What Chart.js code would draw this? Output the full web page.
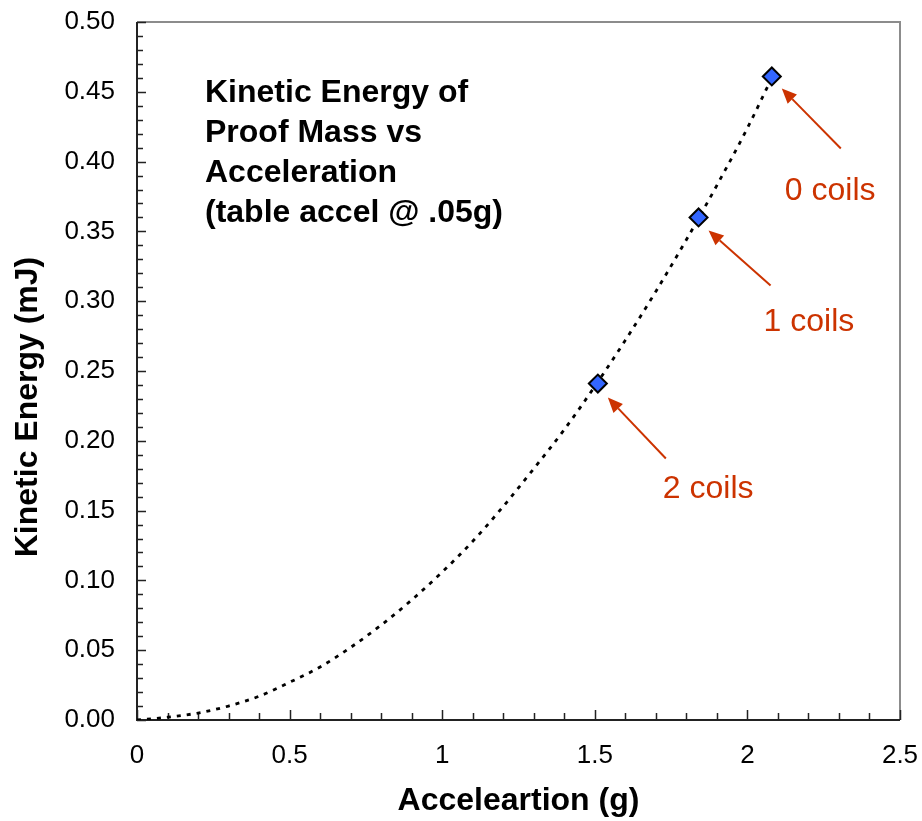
<!DOCTYPE html>
<html>
<head>
<title>Kinetic Energy of Proof Mass vs Acceleration</title>
<script src="https://cdn.jsdelivr.net/npm/chart.js"></script>
<style>
    html, body { margin: 0; padding: 0; background: #fff; }
    #wrap { width: 922px; height: 821px; }
</style>
</head>
<body>
<div id="wrap"><canvas id="keChart" width="922" height="821"></canvas></div>
<script>
// measured points: acceleration (g) vs kinetic energy (mJ)
const coilLabels = ['2 coils', '1 coils', '0 coils'];
const accel = [1.51, 1.84, 2.08];
const energy = [0.241, 0.360, 0.461];

// dotted trend line
const trendAccel = [0, 0.1, 0.2, 0.3, 0.4, 0.5, 0.6, 0.7, 0.8, 0.9, 1.0, 1.1,
    1.2, 1.3, 1.4, 1.5, 1.6, 1.7, 1.8, 1.9, 2.0, 2.08];
const trendEnergy = [0.000, 0.002, 0.005, 0.010, 0.017, 0.027, 0.038, 0.052, 0.068, 0.086, 0.106, 0.128,
    0.153, 0.180, 0.208, 0.239, 0.272, 0.307, 0.344, 0.383, 0.424, 0.460];

// axis ranges / tick steps
const xRange = [0, 2.5];
const yRange = [0, 0.5];
const xStep = 0.5, xMinor = 0.1;
const yStep = 0.05, yMinor = 0.01;

const titleLines = ['Kinetic Energy of', 'Proof Mass vs', 'Acceleration', '(table accel @ .05g)'];
const xTitle = 'Acceleartion (g)';
const yTitle = 'Kinetic Energy (mJ)';

// where each coil note sits, relative to its point (px)
const noteOffsets = [
    { tip: [10, 14], tail: [68, 75], text: [65, 106] },
    { tip: [10, 13], tail: [72, 68], text: [65, 105] },
    { tip: [10, 12], tail: [69, 72], text: [13, 115] }
];

const noteColor = '#cc3300';
const FONT = '"Liberation Sans", Arial, sans-serif';

function drawArrow(ctx, x1, y1, x2, y2) {
    const ang = Math.atan2(y2 - y1, x2 - x1);
    const head = 15, half = 6.5;
    const bx = x2 - head * Math.cos(ang), by = y2 - head * Math.sin(ang);
    ctx.beginPath();
    ctx.moveTo(x1, y1);
    ctx.lineTo(bx, by);
    ctx.stroke();
    ctx.beginPath();
    ctx.moveTo(x2, y2);
    ctx.lineTo(bx + half * Math.sin(ang), by - half * Math.cos(ang));
    ctx.lineTo(bx - half * Math.sin(ang), by + half * Math.cos(ang));
    ctx.closePath();
    ctx.fill();
}

const decor = {
    id: 'decor',
    beforeDatasetsDraw(chart) {
        const { ctx, chartArea: a, scales: { x, y } } = chart;
        ctx.save();
        // grey top/right frame
        ctx.strokeStyle = '#8c8c8c';
        ctx.lineWidth = 2;
        ctx.beginPath();
        ctx.moveTo(a.left, a.top);
        ctx.lineTo(a.right, a.top);
        ctx.lineTo(a.right, a.bottom);
        ctx.stroke();
        // axes
        ctx.strokeStyle = '#222';
        ctx.beginPath();
        ctx.moveTo(a.left, a.top);
        ctx.lineTo(a.left, a.bottom);
        ctx.lineTo(a.right, a.bottom);
        ctx.stroke();
        // inside tick marks
        ctx.lineWidth = 1.5;
        ctx.beginPath();
        const ny = Math.round((yRange[1] - yRange[0]) / yMinor);
        for (let i = 0; i <= ny; i++) {
            const py = Math.round(y.getPixelForValue(yRange[0] + i * yMinor)) + 0.5;
            const len = i % Math.round(yStep / yMinor) === 0 ? 9 : 6;
            ctx.moveTo(a.left, py);
            ctx.lineTo(a.left + len, py);
        }
        const nx = Math.round((xRange[1] - xRange[0]) / xMinor);
        for (let i = 0; i <= nx; i++) {
            const px = Math.round(x.getPixelForValue(xRange[0] + i * xMinor)) + 0.5;
            const len = i % Math.round(xStep / xMinor) === 0 ? 10 : 7;
            ctx.moveTo(px, a.bottom);
            ctx.lineTo(px, a.bottom - len);
        }
        ctx.stroke();
        ctx.restore();
    },
    afterDraw(chart) {
        const { ctx, chartArea: a, scales: { x, y } } = chart;
        ctx.save();
        ctx.fillStyle = '#000';
        // axis titles
        ctx.font = 'bold 32px ' + FONT;
        ctx.textAlign = 'center';
        ctx.textBaseline = 'middle';
        ctx.fillText(xTitle, (a.left + a.right) / 2, 801);
        ctx.save();
        ctx.translate(28, 407);
        ctx.rotate(-Math.PI / 2);
        ctx.fillText(yTitle, 0, 0);
        ctx.restore();
        // title block inside the plot
        ctx.font = 'bold 32px ' + FONT;
        ctx.textAlign = 'left';
        ctx.textBaseline = 'alphabetic';
        titleLines.forEach((t, i) => ctx.fillText(t, a.left + 68, a.top + 80 + i * 40));
        // coil notes
        ctx.strokeStyle = noteColor;
        ctx.fillStyle = noteColor;
        ctx.lineWidth = 2;
        ctx.font = '32px ' + FONT;
        ctx.textBaseline = 'middle';
        accel.forEach((v, i) => {
            const px = x.getPixelForValue(v), py = y.getPixelForValue(energy[i]);
            const o = noteOffsets[i];
            drawArrow(ctx, px + o.tail[0], py + o.tail[1], px + o.tip[0], py + o.tip[1]);
            ctx.fillText(coilLabels[i], px + o.text[0], py + o.text[1]);
        });
        ctx.restore();
    }
};

const chart = new Chart(document.getElementById('keChart'), {
    type: 'scatter',
    data: {
        datasets: [
            {
                label: 'Measured',
                data: accel.map((v, i) => ({ x: v, y: energy[i] })),
                pointStyle: 'rectRot',
                pointRadius: 9,
                pointBackgroundColor: '#3366ff',
                pointBorderColor: '#000',
                pointBorderWidth: 2,
                showLine: false,
                order: 0
            },
            {
                label: 'Trend',
                data: trendAccel.map((v, i) => ({ x: v, y: trendEnergy[i] })),
                showLine: true,
                borderColor: '#000',
                borderWidth: 2.8,
                borderDash: [4, 6],
                pointRadius: 0,
                cubicInterpolationMode: 'monotone',
                order: 1
            }
        ]
    },
    options: {
        responsive: false,
        devicePixelRatio: 1,
        animation: false,
        layout: { padding: { left: 0, top: 22, right: 22, bottom: 0 } },
        plugins: {
            legend: { display: false },
            tooltip: { enabled: false }
        },
        scales: {
            x: {
                type: 'linear',
                min: xRange[0],
                max: xRange[1],
                grid: { display: false, drawTicks: false },
                border: { display: false },
                ticks: {
                    stepSize: xStep,
                    padding: 20,
                    color: '#000',
                    font: { family: FONT, size: 26 },
                    callback: v => String(v)
                },
                afterFit: s => { s.height = 101; s.paddingLeft = 0; s.paddingRight = 0; }
            },
            y: {
                min: yRange[0],
                max: yRange[1],
                grid: { display: false, drawTicks: false },
                border: { display: false },
                ticks: {
                    stepSize: yStep,
                    padding: 22,
                    color: '#000',
                    font: { family: FONT, size: 26 },
                    callback: v => v.toFixed(2)
                },
                afterFit: s => { s.width = 137; s.paddingTop = 0; s.paddingBottom = 0; }
            }
        }
    },
    plugins: [decor]
});
</script>
</body>
</html>
